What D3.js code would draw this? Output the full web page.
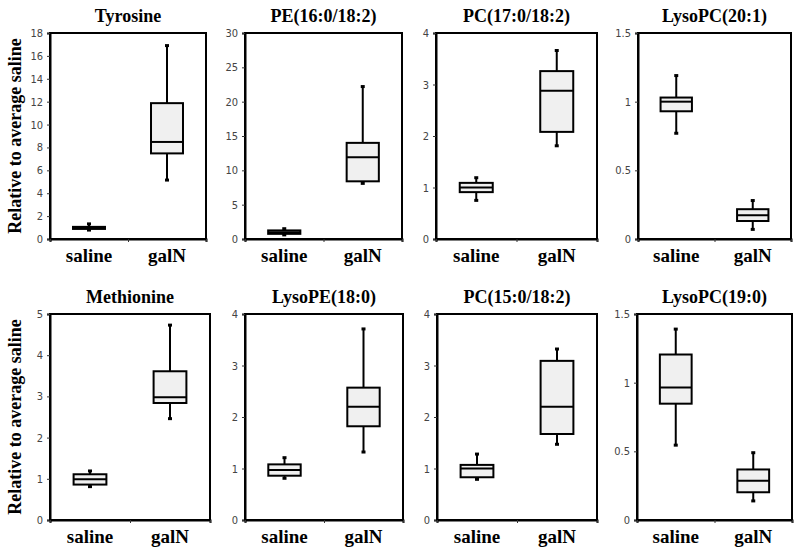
<!DOCTYPE html>
<html>
<head>
<meta charset="utf-8">
<script src="https://cdn.jsdelivr.net/npm/d3@7"></script>
<style>
  html, body { margin: 0; padding: 0; background: #fff; }
  svg { display: block; }
</style>
</head>
<body>
<svg id="chart" width="800" height="548"></svg>
<script>
// ---------------- DATA ----------------
const categories = ["saline", "galN"];
const titles = ["Tyrosine", "PE(16:0/18:2)", "PC(17:0/18:2)", "LysoPC(20:1)",
                "Methionine", "LysoPE(18:0)", "PC(15:0/18:2)", "LysoPC(19:0)"];
const yMax = [18, 30, 4, 1.5, 5, 4, 4, 1.5];
const yTicks = [
  [0, 2, 4, 6, 8, 10, 12, 14, 16, 18],
  [0, 5, 10, 15, 20, 25, 30],
  [0, 1, 2, 3, 4],
  [0, 0.5, 1, 1.5],
  [0, 1, 2, 3, 4, 5],
  [0, 1, 2, 3, 4],
  [0, 1, 2, 3, 4],
  [0, 0.5, 1, 1.5]
];
// [min, q1, median, q3, max]
const salineStats = [
  [0.78, 0.88, 1.0, 1.06, 1.32],
  [0.6, 0.75, 1.0, 1.25, 1.5],
  [0.75, 0.91, 1.0, 1.09, 1.19],
  [0.77, 0.93, 1.0, 1.03, 1.19],
  [0.81, 0.86, 0.99, 1.11, 1.19],
  [0.81, 0.86, 0.97, 1.08, 1.21],
  [0.79, 0.83, 1.0, 1.07, 1.28],
  [0.545, 0.847, 0.964, 1.205, 1.39]
];
const galNStats = [
  [5.15, 7.48, 8.48, 11.87, 16.9],
  [8.1, 8.4, 11.9, 14.0, 22.2],
  [1.81, 2.08, 2.88, 3.26, 3.66],
  [0.07, 0.131, 0.173, 0.217, 0.28],
  [2.46, 2.84, 2.98, 3.61, 4.73],
  [1.32, 1.82, 2.20, 2.57, 3.71],
  [1.47, 1.67, 2.20, 3.09, 3.32],
  [0.139, 0.202, 0.285, 0.368, 0.49]
];
const yLabel = "Relative to average saline";

// ---------------- LAYOUT ----------------
const lefts  = [50, 245, 436, 638, 50, 245, 437, 637];
const rights = [206, 402, 597, 791, 210, 403, 597, 792];
const tops    = [33, 33, 33, 33, 314, 314, 314, 314];
const bottoms = [239, 239, 239, 239, 520, 520, 520, 520];

const svg = d3.select("#chart");
const serif = "'Liberation Serif', 'Times New Roman', Times, serif";
const narrow = "'Liberation Sans Narrow', 'Arial Narrow', 'DejaVu Sans Condensed', sans-serif";

titles.forEach((title, i) => {
  const L = lefts[i], R = rights[i], T = tops[i], B = bottoms[i];
  const g = svg.append("g");

  const y = d3.scaleLinear().domain([0, yMax[i]]).range([B, T]);
  const x = d3.scaleBand().domain(categories).range([L, R]);
  const xb = d3.scaleLinear().domain([0, categories.length]).range([L, R]);

  // frame
  g.append("rect")
    .attr("x", L).attr("y", T).attr("width", R - L).attr("height", B - T)
    .attr("fill", "none").attr("stroke", "#000").attr("stroke-width", 2);

  // y axis
  const ya = g.append("g").attr("transform", `translate(${L},0)`)
    .call(d3.axisLeft(y).tickValues(yTicks[i]).tickSize(3).tickPadding(4)
      .tickFormat(d => String(d)));
  ya.select(".domain").attr("stroke", "#000").attr("stroke-width", 2);
  ya.selectAll(".tick line").attr("stroke", "#333").attr("stroke-width", 1);
  ya.selectAll(".tick text").attr("font-family", narrow).attr("font-size", 11)
    .attr("fill", "#444");

  // x axis (ticks at category boundaries)
  const xa = g.append("g").attr("transform", `translate(0,${B})`)
    .call(d3.axisBottom(xb).tickValues([0, 1, 2]).tickSize(3).tickFormat(""));
  xa.select(".domain").attr("stroke", "#000").attr("stroke-width", 2);
  xa.selectAll(".tick line").attr("stroke", "#333").attr("stroke-width", 1);

  // category labels
  g.selectAll(".cat").data(categories).enter().append("text")
    .attr("x", d => x(d) + x.bandwidth() / 2)
    .attr("y", B + 23)
    .attr("text-anchor", "middle")
    .attr("font-family", serif).attr("font-weight", "bold").attr("font-size", 19)
    .text(d => d);

  // title
  g.append("text")
    .attr("x", (L + R) / 2).attr("y", T - 11)
    .attr("text-anchor", "middle")
    .attr("font-family", serif).attr("font-weight", "bold").attr("font-size", 18)
    .text(title);

  // boxes
  const stats = [salineStats[i], galNStats[i]];
  const bw = x.bandwidth() * 0.41;
  const capW = 4;
  categories.forEach((c, k) => {
    const s = stats[k];
    const cx = x(c) + x.bandwidth() / 2;
    // whiskers
    g.append("line").attr("x1", cx).attr("x2", cx)
      .attr("y1", y(s[0])).attr("y2", y(s[4]))
      .attr("stroke", "#000").attr("stroke-width", 2);
    [s[0], s[4]].forEach(v => {
      g.append("line").attr("x1", cx - capW / 2).attr("x2", cx + capW / 2)
        .attr("y1", y(v)).attr("y2", y(v))
        .attr("stroke", "#000").attr("stroke-width", 3);
    });
    // box
    g.append("rect")
      .attr("x", cx - bw / 2).attr("width", bw)
      .attr("y", y(s[3])).attr("height", Math.max(0, y(s[1]) - y(s[3])))
      .attr("fill", "#f0f0f0").attr("stroke", "#000").attr("stroke-width", 2);
    // median
    g.append("line").attr("x1", cx - bw / 2).attr("x2", cx + bw / 2)
      .attr("y1", y(s[2])).attr("y2", y(s[2]))
      .attr("stroke", "#000").attr("stroke-width", 2);
  });

  // y label (first column only)
  if (i % 4 === 0) {
    const cy = (T + B) / 2;
    svg.append("text")
      .attr("transform", `translate(21,${cy}) rotate(-90)`)
      .attr("text-anchor", "middle")
      .attr("font-family", serif).attr("font-weight", "bold").attr("font-size", 18)
      .text(yLabel);
  }
});
</script>
</body>
</html>
